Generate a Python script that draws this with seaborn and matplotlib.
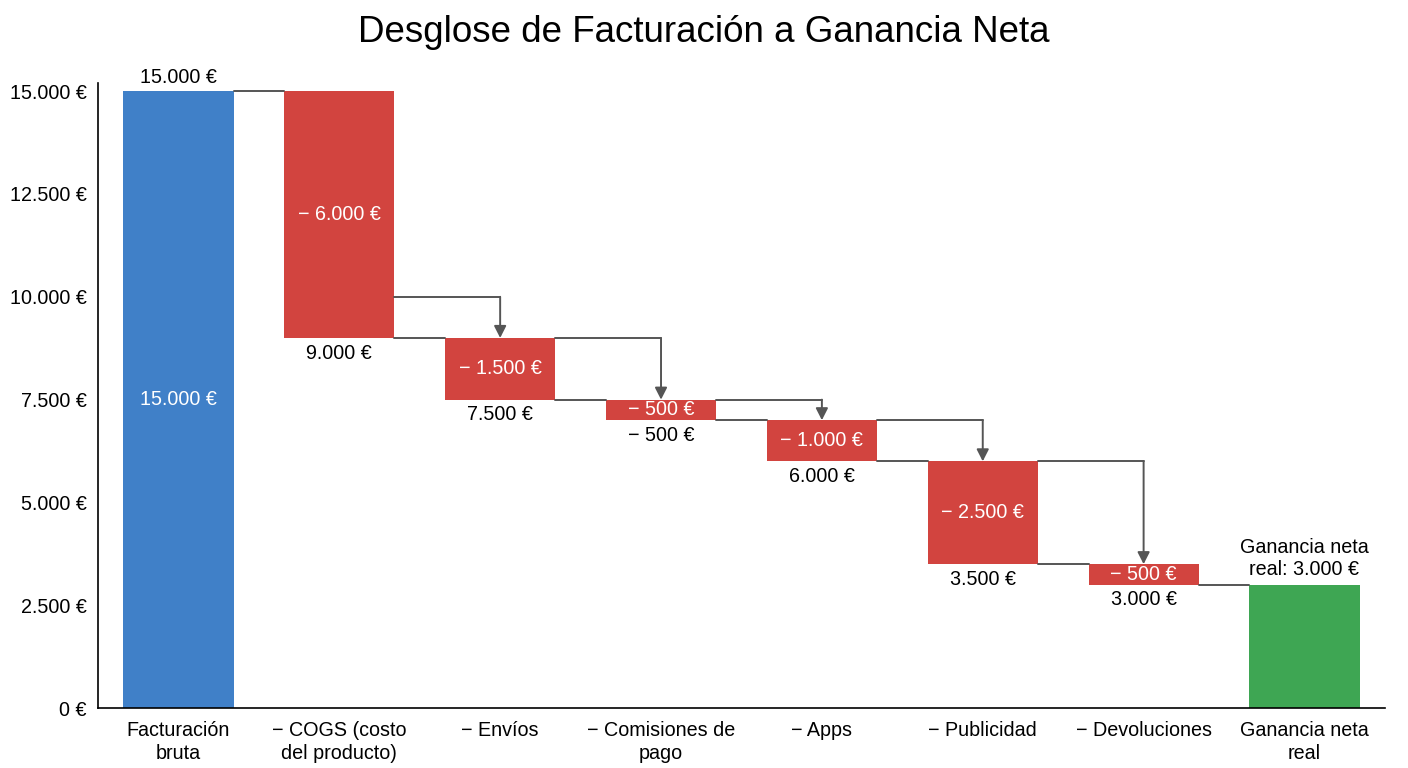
import numpy as np
import pandas as pd
import matplotlib
matplotlib.use("Agg")
import matplotlib.pyplot as plt
import seaborn as sns

# data
categories = ["Facturación\nbruta", "− COGS (costo\ndel producto)", "− Envíos",
              "− Comisiones de\npago", "− Apps", "− Publicidad", "− Devoluciones",
              "Ganancia neta\nreal"]
changes = [15000, -6000, -1500, -500, -1000, -2500, -500, 3000]
inside_labels = ["15.000 €", "− 6.000 €", "− 1.500 €", "− 500 €", "− 1.000 €",
                 "− 2.500 €", "− 500 €", ""]
below_labels = ["", "9.000 €", "7.500 €", "− 500 €", "6.000 €", "3.500 €", "3.000 €", ""]
top_label = "15.000 €"
final_label = "Ganancia neta\nreal: 3.000 €"
arrow_from = [None, 10000, 9000, 7500, 7000, 6000, None, None]
ytick_values = [0, 2500, 5000, 7500, 10000, 12500, 15000]
ytick_labels = ["0 €", "2.500 €", "5.000 €", "7.500 €", "10.000 €", "12.500 €", "15.000 €"]

colors = ["#4080C8", "#D2443F", "#D2443F", "#D2443F", "#D2443F", "#D2443F", "#D2443F", "#3EA653"]

# running totals -> floating bars
ends = []
bottoms = []
tops = []
total = 0
for i, c in enumerate(changes):
    if i == 0 or i == len(changes) - 1:
        bottoms.append(0)
        tops.append(c)
        total = c
    else:
        new_total = total + c
        bottoms.append(new_total)
        tops.append(total)
        total = new_total
    ends.append(total)

df = pd.DataFrame({"cat": categories, "top": tops})

sns.set_style("white")
plt.rcParams["font.family"] = ["Liberation Sans", "DejaVu Sans"]
plt.rcParams["text.color"] = "black"

fig = plt.figure(figsize=(14.08, 7.68), dpi=100)
ax = fig.add_axes([0.0696, 0.078, 0.914, 0.814])

width = 0.685
sns.barplot(data=df, x="cat", y="top", hue="cat", palette=colors, legend=False,
            width=width, saturation=1, ax=ax)

# turn the bars into floating bars
for p, b, t in zip(ax.patches, bottoms, tops):
    p.set_y(b)
    p.set_height(t - b)
    p.set_edgecolor("none")

line_col = "#555555"
half = width / 2
fs = 14.2

# connectors at running totals
for i in range(len(categories) - 1):
    ax.plot([i + half, i + 1 - half], [ends[i], ends[i]], color=line_col, lw=1.4, zorder=1)

# arrows into next bar
for i, a in enumerate(arrow_from):
    if a is None:
        continue
    ax.plot([i + half, i + 1], [a, a], color=line_col, lw=1.4, zorder=1)
    ax.annotate("", xy=(i + 1, tops[i + 1]), xytext=(i + 1, a),
                arrowprops=dict(arrowstyle="-|>,head_length=0.55,head_width=0.28",
                                color=line_col, lw=1.4,
                                mutation_scale=13, shrinkA=0, shrinkB=0))

# text labels
for i in range(len(categories)):
    if inside_labels[i]:
        ax.text(i, (bottoms[i] + tops[i]) / 2, inside_labels[i], color="white",
                ha="center", va="center", fontsize=fs)
    if below_labels[i]:
        ax.annotate(below_labels[i], xy=(i, bottoms[i]), xytext=(0, -11),
                    textcoords="offset points", ha="center", va="center", fontsize=fs)

ax.annotate(top_label, xy=(0, tops[0]), xytext=(0, 10), textcoords="offset points",
            ha="center", va="center", fontsize=fs)
ax.annotate(final_label, xy=(len(categories) - 1, tops[-1]), xytext=(0, 4),
            textcoords="offset points", ha="center", va="bottom", fontsize=fs,
            linespacing=1.2)

ax.set_xlim(-0.5, len(categories) - 0.5)
ax.set_ylim(0, 15200)
ax.set_yticks(ytick_values)
ax.set_yticklabels(ytick_labels)
ax.set_xlabel("")
ax.set_ylabel("")
ax.tick_params(axis="both", length=0, labelsize=fs, colors="black")
ax.tick_params(axis="y", pad=8)
ax.tick_params(axis="x", pad=9.5)
for lab in ax.get_xticklabels():
    lab.set_linespacing(1.25)

sns.despine(ax=ax)
for s in ["left", "bottom"]:
    ax.spines[s].set_color("black")
    ax.spines[s].set_linewidth(1.2)

fig.suptitle("Desglose de Facturación a Ganancia Neta", fontsize=26.5, y=0.98,
             color="black")

fig.savefig("out.png", dpi=100)
